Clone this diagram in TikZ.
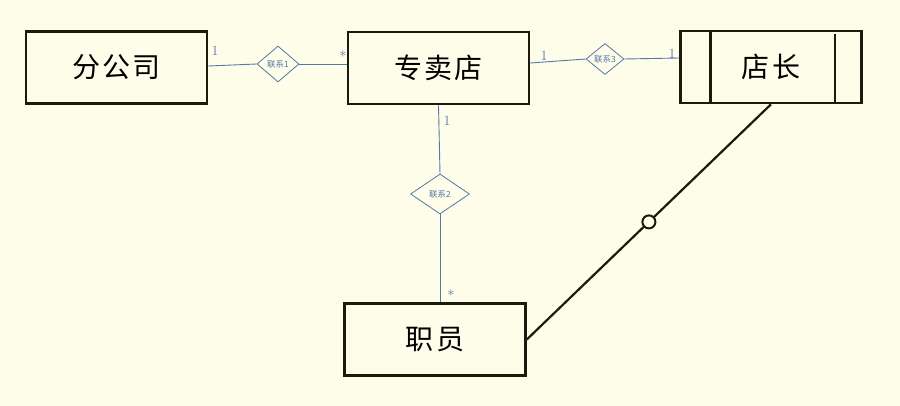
\documentclass[tikz,border=0pt]{standalone}
\usepackage{fontspec}
\newfontfamily\cjk{Noto Sans CJK SC}
\newfontfamily\cjkwide[LetterSpace=8]{Noto Sans CJK SC}
\usetikzlibrary{shapes.geometric}
\definecolor{paper}{RGB}{254,253,234}
\definecolor{pen}{RGB}{28,26,14}
\definecolor{ink}{RGB}{84,120,168}
\begin{document}
\begin{tikzpicture} [x = 1pt, y = -1pt,
	entity/.style = {draw = pen, line width = 2.6pt, minimum width = 181pt, minimum height = 72pt, font = \cjkwide\fontsize{28}{32}\selectfont},
	rel/.style = {draw = ink, diamond, inner sep = 0pt, line width = 0.8pt, font = \cjk\fontsize{8.5}{9}\selectfont, text = ink},
	link/.style = {draw = ink, line width = 0.9pt},
	mult/.style = {text = ink, font = \fontsize{14}{16}\selectfont, inner sep = 1pt}]
	\fill [paper] (0,0) rectangle (900,406);
	\useasboundingbox (0,0) rectangle (900,406);
	% entities
	\node [entity] (fgs) at (116.5,67.5) {分公司};
	\node [entity] (zmd) at (438.5,68) {专卖店};
	\node [entity] (dz) at (771,67) {店长};
	\node [entity] (zy) at (435,339.5) {职员};
	\draw [pen, line width = 2.6pt] ([xshift = 31pt, yshift = -1pt] dz.north west) -- ([xshift = 31pt] dz.south west);
	\draw [pen, line width = 2.6pt] ([xshift = -28pt, yshift = -4pt] dz.north east) -- ([xshift = -28pt] dz.south east);
	% relationships
	\node [rel, minimum width = 42pt, minimum height = 36pt] (r1) at (278,64) {联系1};
	\node [rel, minimum width = 38pt, minimum height = 31pt] (r3) at (605,59) {联系3};
	\node [rel, minimum width = 59pt, minimum height = 40pt] (r2) at (440,194) {联系2};
	\draw [link] (fgs.east |- 0,66) -- (r1.west);
	\draw [link] (r1.east) -- (zmd.west |- 0,64);
	\draw [link] (zmd.east |- 0,63) -- (r3.west);
	\draw [link] (r3.east) -- (dz.west |- 0,58);
	\draw [link] (zmd.south) -- (r2.north);
	\draw [link] (r2.south) -- (zy.north -| r2.south);
	% multiplicities
	\node [mult] (m1) at (215,51) {1};
	\node [mult] (m2) at (343,54) {$\ast$};
	\node [mult] (m3) at (544,56) {1};
	\node [mult] (m4) at (672,54) {1};
	\node [mult] (m5) at (447,121) {1};
	\node [mult] (m6) at (451,293) {$\ast$};
	% manager to staff
	\draw [pen, line width = 2.2pt] (dz.south) -- (zy.east) node [pos = 0.5, circle, draw = pen, fill = paper, line width = 2pt, minimum size = 13pt, inner sep = 0pt] (ring) {};
\end{tikzpicture}
\end{document}
